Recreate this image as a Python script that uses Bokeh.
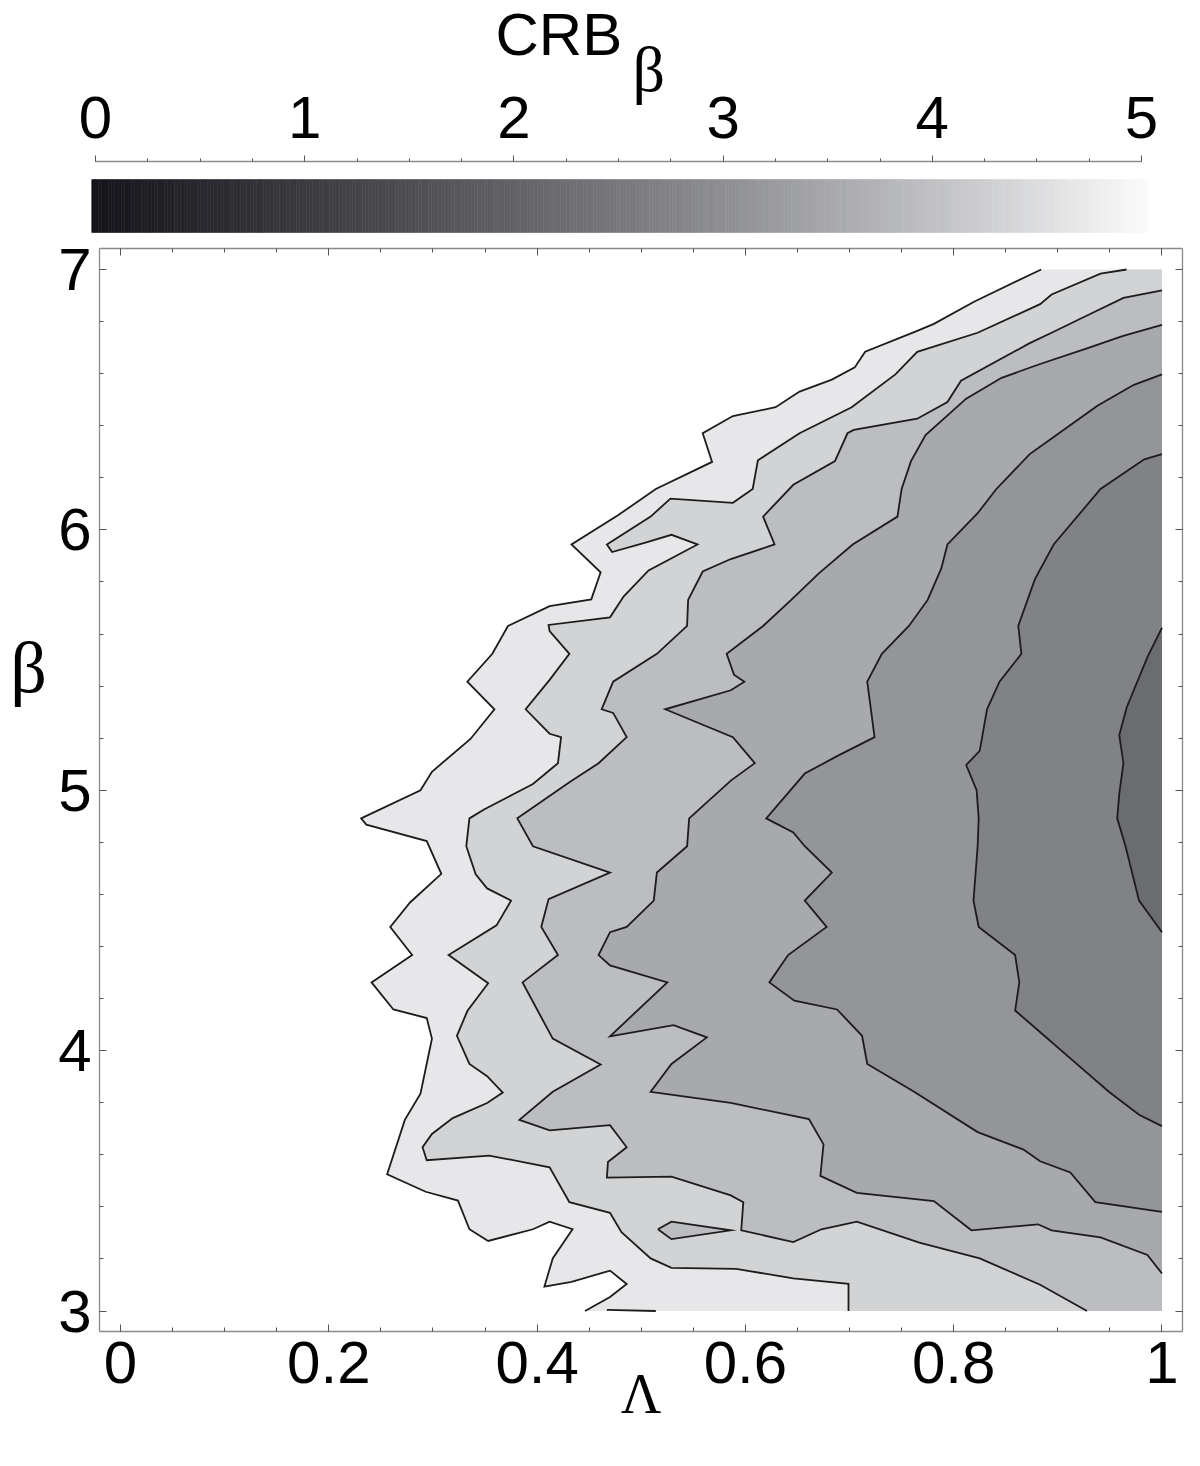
import numpy as np
from bokeh.plotting import figure
from bokeh.layouts import column, row
from bokeh.models import ColumnDataSource, Range1d, FixedTicker, LinearAxis
from bokeh.core.properties import value
from bokeh.embed import file_html
from bokeh.resources import INLINE

# ---------------- data (Lambda, beta) ----------------
C1 = [(0.884, 7.000), (0.820, 6.877), (0.781, 6.791), (0.765, 6.764), (0.715, 6.684),
      (0.705, 6.624), (0.683, 6.577), (0.652, 6.531), (0.629, 6.471), (0.588, 6.437),
      (0.559, 6.371), (0.568, 6.261), (0.514, 6.157), (0.478, 6.057), (0.433, 5.944),
      (0.461, 5.837), (0.452, 5.733), (0.412, 5.707), (0.372, 5.631), (0.357, 5.524),
      (0.333, 5.417), (0.359, 5.311), (0.336, 5.197), (0.299, 5.071), (0.288, 5.000),
      (0.231, 4.892), (0.236, 4.868), (0.294, 4.805), (0.308, 4.679), (0.278, 4.569),
      (0.259, 4.475), (0.280, 4.367), (0.241, 4.262), (0.262, 4.158), (0.294, 4.125),
      (0.299, 4.046), (0.288, 3.835), (0.273, 3.734), (0.256, 3.525), (0.293, 3.458),
      (0.324, 3.424), (0.335, 3.314), (0.353, 3.269), (0.396, 3.314), (0.412, 3.343),
      (0.434, 3.314), (0.415, 3.202), (0.407, 3.094), (0.433, 3.112), (0.470, 3.155),
      (0.486, 3.104), (0.470, 3.054), (0.446, 3.000)]

C2 = [(0.966, 7.000), (0.941, 6.984), (0.894, 6.904), (0.883, 6.867), (0.823, 6.757),
      (0.765, 6.684), (0.744, 6.597), (0.702, 6.471), (0.652, 6.371), (0.612, 6.267),
      (0.607, 6.157), (0.588, 6.104), (0.528, 6.120), (0.509, 6.051), (0.467, 5.944),
      (0.472, 5.915), (0.504, 5.951), (0.529, 5.981), (0.554, 5.944), (0.507, 5.844),
      (0.483, 5.744), (0.470, 5.664), (0.411, 5.635), (0.412, 5.611), (0.431, 5.524),
      (0.412, 5.424), (0.389, 5.311), (0.412, 5.217), (0.423, 5.204), (0.420, 5.104),
      (0.396, 5.024), (0.349, 4.926), (0.335, 4.892), (0.332, 4.785), (0.341, 4.677),
      (0.352, 4.623), (0.375, 4.576), (0.361, 4.481), (0.315, 4.367), (0.353, 4.259),
      (0.333, 4.152), (0.323, 4.057), (0.335, 3.949), (0.352, 3.902), (0.367, 3.839),
      (0.352, 3.799), (0.319, 3.741), (0.299, 3.680), (0.290, 3.629), (0.294, 3.579),
      (0.354, 3.597), (0.412, 3.552), (0.431, 3.418), (0.470, 3.377), (0.481, 3.303),
      (0.509, 3.202), (0.529, 3.166), (0.591, 3.162), (0.646, 3.125), (0.699, 3.104),
      (0.699, 3.000)]

C3 = [(1.000, 6.920), (0.963, 6.891), (0.932, 6.831), (0.894, 6.757), (0.873, 6.717),
      (0.807, 6.573), (0.794, 6.491), (0.765, 6.427), (0.704, 6.384), (0.698, 6.371),
      (0.686, 6.264), (0.646, 6.173), (0.617, 6.051), (0.628, 5.944), (0.586, 5.888),
      (0.559, 5.840), (0.545, 5.731), (0.544, 5.631), (0.515, 5.524), (0.473, 5.417),
      (0.462, 5.311), (0.473, 5.297), (0.486, 5.204), (0.459, 5.104), (0.431, 5.031),
      (0.381, 4.892), (0.396, 4.785), (0.470, 4.684), (0.411, 4.582), (0.404, 4.475),
      (0.420, 4.367), (0.386, 4.262), (0.415, 4.046), (0.461, 3.947), (0.415, 3.842),
      (0.383, 3.734), (0.412, 3.694), (0.470, 3.714), (0.486, 3.629), (0.468, 3.572),
      (0.467, 3.512), (0.529, 3.516), (0.586, 3.444), (0.598, 3.418), (0.596, 3.310),
      (0.646, 3.265), (0.673, 3.314), (0.707, 3.343), (0.767, 3.263), (0.825, 3.202),
      (0.883, 3.101), (0.928, 3.000)]

C4 = [(1.000, 6.787), (0.962, 6.744), (0.928, 6.697), (0.883, 6.637), (0.846, 6.584),
      (0.812, 6.504), (0.773, 6.364), (0.759, 6.264), (0.750, 6.157), (0.746, 6.051),
      (0.703, 5.944), (0.670, 5.831), (0.644, 5.731), (0.617, 5.631), (0.582, 5.524),
      (0.589, 5.444), (0.599, 5.417), (0.586, 5.384), (0.523, 5.311), (0.588, 5.204),
      (0.609, 5.104), (0.586, 5.037), (0.546, 4.892), (0.544, 4.785), (0.515, 4.684),
      (0.512, 4.576), (0.486, 4.475), (0.470, 4.455), (0.459, 4.367), (0.470, 4.327),
      (0.525, 4.262), (0.470, 4.055), (0.531, 4.098), (0.563, 4.051), (0.529, 3.949),
      (0.509, 3.842), (0.586, 3.799), (0.661, 3.737), (0.675, 3.640), (0.672, 3.519),
      (0.707, 3.454), (0.781, 3.422), (0.817, 3.310), (0.881, 3.333), (0.894, 3.310),
      (0.941, 3.283), (0.986, 3.215), (1.000, 3.144)]

C5 = [(1.000, 6.597), (0.973, 6.557), (0.938, 6.477), (0.894, 6.351), (0.873, 6.291),
      (0.841, 6.157), (0.823, 6.064), (0.794, 5.944), (0.788, 5.851), (0.775, 5.731),
      (0.757, 5.631), (0.731, 5.524), (0.717, 5.417), (0.724, 5.204), (0.688, 5.131),
      (0.657, 5.064), (0.620, 4.892), (0.646, 4.838), (0.657, 4.785), (0.683, 4.684),
      (0.657, 4.576), (0.678, 4.475), (0.641, 4.367), (0.623, 4.262), (0.647, 4.192),
      (0.688, 4.158), (0.712, 4.057), (0.717, 3.949), (0.762, 3.842), (0.823, 3.687),
      (0.867, 3.620), (0.883, 3.575), (0.912, 3.532), (0.936, 3.418), (1.000, 3.381)]

C6 = [(1.000, 6.291), (0.983, 6.271), (0.941, 6.157), (0.896, 5.944), (0.878, 5.811),
      (0.862, 5.631), (0.865, 5.524), (0.844, 5.417), (0.832, 5.311), (0.825, 5.151),
      (0.812, 5.097), (0.822, 5.000), (0.824, 4.892), (0.823, 4.785), (0.819, 4.576),
      (0.824, 4.475), (0.859, 4.367), (0.863, 4.262), (0.859, 4.154), (0.887, 4.057),
      (0.912, 3.970), (0.949, 3.842), (0.978, 3.754), (1.000, 3.710)]

C7 = [(1.000, 5.624), (0.986, 5.511), (0.966, 5.317), (0.959, 5.211), (0.963, 5.104),
      (0.959, 4.987), (0.957, 4.892), (0.965, 4.785), (0.978, 4.576), (1.000, 4.455)]

ISLAND = [(0.516, 3.314), (0.529, 3.343), (0.586, 3.310), (0.529, 3.276)]   # band-3 pocket
BOTTOM_PIECE = [(0.467, 3.004), (0.514, 3.000)]

CONTOURS = [C1, C2, C3, C4, C5, C6, C7]
BAND_COLORS = ["#e7e7e9", "#d2d3d5", "#bcbdc0", "#a8a9ac", "#949599", "#818286", "#6b6c70"]
ISLAND_BAND = 2

LAM_MAX, BETA_MIN, BETA_MAX = 1.0, 3.0, 7.0

X_TICKS = [0.0, 0.2, 0.4, 0.6, 0.8, 1.0]
X_TICK_LABELS = ["0", "0.2", "0.4", "0.6", "0.8", "1"]
Y_TICKS = [3, 4, 5, 6, 7]
Y_TICK_LABELS = ["3", "4", "5", "6", "7"]
CB_TICKS = [0, 1, 2, 3, 4, 5]
CB_TICK_LABELS = ["0", "1", "2", "3", "4", "5"]
CB_STOP_VALUES = [0, 1, 2, 3, 4, 5]
CB_STOP_COLORS = ["#16141a", "#3b3a3f", "#626266", "#8d8e92", "#bfc0c3", "#f9f9f9"]
CB_TITLE = "CRB"
CB_TITLE_SUB = "β"
X_LABEL = "Λ"
Y_LABEL = "β"

SANS = "Liberation Sans"
SERIF = "Liberation Serif"
AXIS_GRAY = "#8a8a8a"
TICK_GRAY = "#555555"

# ---------------- layout constants (page pixels) ----------------
PAGE_W = 1190
CB_PX0, CB_PPU = 103.0, 209.2          # colour-bar value 0 position and px per unit
TOP_L, TOP_R = 60, 8                   # borders of the colour-bar figures
cb_left_px = 8 + TOP_L
cb_right_px = 8 + PAGE_W - TOP_R
cb_xr = Range1d((cb_left_px - CB_PX0) / CB_PPU, (cb_right_px - CB_PX0) / CB_PPU)


def band_region(pts):
    """Contour line closed on its darker side along the domain boundary."""
    xs = [q[0] for q in pts]
    ys = [q[1] for q in pts]
    sx, sy = xs[0], ys[0]
    ex, ey = xs[-1], ys[-1]
    if ey <= BETA_MIN + 1e-9 and ex < LAM_MAX:
        xs.append(LAM_MAX); ys.append(BETA_MIN)
    if sy >= BETA_MAX - 1e-9 and sx < LAM_MAX:
        xs.append(LAM_MAX); ys.append(BETA_MAX)
    return xs, ys


def bare(fig):
    fig.xgrid.visible = False
    fig.ygrid.visible = False
    fig.outline_line_color = None
    fig.background_fill_color = "white"
    fig.border_fill_color = "white"
    return fig


# ---------------- title + colour-bar labels (page y 8..163) ----------------
TITLE_H = 155
tfig = bare(figure(width=PAGE_W, height=TITLE_H, x_range=cb_xr, y_range=Range1d(0, 1),
                   output_backend="svg", toolbar_location=None, title_location=None,
                   x_axis_location=None, y_axis_location=None,
                   min_border_left=TOP_L, min_border_right=TOP_R,
                   min_border_top=0, min_border_bottom=0))


def ty(page_y):
    return (8 + TITLE_H - page_y) / TITLE_H


tfig.text(x=[(503 - CB_PX0) / CB_PPU], y=[ty(42)], text=[CB_TITLE],
          text_font=value(SANS), text_font_size="60px", text_align="left",
          text_baseline="middle", text_color="black")
tfig.text(x=[(640 - CB_PX0) / CB_PPU], y=[ty(77)], text=[CB_TITLE_SUB],
          text_font=value(SERIF), text_font_size="64px", text_align="left",
          text_baseline="middle", text_color="black")
tfig.text(x=CB_TICKS, y=[ty(125)] * len(CB_TICKS), text=CB_TICK_LABELS,
          text_font=value(SANS), text_font_size="60px", text_align="center",
          text_baseline="middle", text_color="black")

# ---------------- colour bar (page y 163..241) ----------------
CB_H = 78
cb = bare(figure(width=PAGE_W, height=CB_H, x_range=cb_xr, y_range=Range1d(0, 1),
                 output_backend="svg", toolbar_location=None, title_location=None,
                 x_axis_location=None, y_axis_location=None,
                 min_border_left=TOP_L, min_border_right=TOP_R,
                 min_border_top=6, min_border_bottom=0))
cb_frame_top, cb_frame_bot = 169, 8 + TITLE_H + CB_H
edges = np.linspace(-0.018, 5.029, 321)
mids = 0.5 * (edges[:-1] + edges[1:])
stops_rgb = np.array([[int(h[i:i + 2], 16) for i in (1, 3, 5)] for h in CB_STOP_COLORS], float)
cols = []
for m in mids:
    v = min(max(m, CB_STOP_VALUES[0]), CB_STOP_VALUES[-1])
    rgb = [int(round(np.interp(v, CB_STOP_VALUES, stops_rgb[:, k]))) for k in range(3)]
    cols.append("#%02x%02x%02x" % tuple(rgb))
fh = cb_frame_bot - cb_frame_top
cb.quad(left=edges[:-1], right=edges[1:],
        bottom=(cb_frame_bot - 240) / fh, top=(cb_frame_bot - 187) / fh,
        fill_color=cols, line_color=cols, line_width=0.6)

cax = LinearAxis(ticker=FixedTicker(ticks=CB_TICKS,
                                    minor_ticks=[0.25 * i for i in range(21)]))
cax.bounds = (0, 5)
cax.axis_line_color = AXIS_GRAY
cax.axis_line_width = 1.3
cax.major_tick_line_color = TICK_GRAY
cax.minor_tick_line_color = TICK_GRAY
cax.major_tick_in = 0
cax.major_tick_out = 6
cax.minor_tick_in = 0
cax.minor_tick_out = 3
cax.major_label_overrides = {t: "" for t in CB_TICKS}
cax.major_label_text_font_size = "0px"
cax.major_label_standoff = 0
cb.add_layout(cax, "above")

# ---------------- main contour figure (page y 241..1458) ----------------
MAIN_H = 1217
BETA_W = 50
p = bare(figure(width=PAGE_W - BETA_W, height=MAIN_H,
                x_range=Range1d(-0.0202, 1.0197), y_range=Range1d(2.9213, 7.0806),
                output_backend="svg", toolbar_location=None, title_location=None,
                x_axis_location=None, y_axis_location=None,
                min_border_left=49, min_border_right=8, min_border_top=15,
                min_border_bottom=119))

pxs, pys, pcols = [], [], []
for c, col in zip(CONTOURS, BAND_COLORS):
    xs, ys = band_region(c)
    pxs.append(xs); pys.append(ys); pcols.append(col)
pxs.append([q[0] for q in ISLAND]); pys.append([q[1] for q in ISLAND])
pcols.append(BAND_COLORS[ISLAND_BAND])
p.patches(xs="xs", ys="ys", fill_color="c", line_color=None,
          source=ColumnDataSource(dict(xs=pxs, ys=pys, c=pcols)))

lxs = [[q[0] for q in c] for c in CONTOURS]
lys = [[q[1] for q in c] for c in CONTOURS]
lxs.append([q[0] for q in ISLAND] + [ISLAND[0][0]])
lys.append([q[1] for q in ISLAND] + [ISLAND[0][1]])
lxs.append([q[0] for q in BOTTOM_PIECE]); lys.append([q[1] for q in BOTTOM_PIECE])
p.multi_line(xs="xs", ys="ys", line_color="#1c1c1c", line_width=1.8, line_join="miter",
             source=ColumnDataSource(dict(xs=lxs, ys=lys)))


def frame_axis(ticks, minors, labels, show):
    ax = LinearAxis(ticker=FixedTicker(ticks=ticks, minor_ticks=minors))
    ax.axis_line_color = AXIS_GRAY
    ax.axis_line_width = 1.3
    ax.major_tick_line_color = TICK_GRAY
    ax.minor_tick_line_color = TICK_GRAY
    ax.major_tick_in = 7
    ax.major_tick_out = 0
    ax.minor_tick_in = 4
    ax.minor_tick_out = 0
    if show:
        ax.major_label_overrides = {t: s for t, s in zip(ticks, labels)}
        ax.major_label_text_font = SANS
        ax.major_label_text_font_size = "60px"
        ax.major_label_text_color = "black"
    else:
        ax.major_label_text_font_size = "0px"
        ax.major_label_standoff = 0
        ax.major_label_overrides = {t: "" for t in ticks}
    return ax


x_minor = [round(0.05 * i, 2) for i in range(21)]
y_minor = [round(3 + 0.2 * i, 1) for i in range(21)]

xb = frame_axis(X_TICKS, x_minor, X_TICK_LABELS, True)
xb.major_label_standoff = 10
xb.axis_label = X_LABEL
xb.axis_label_text_font = SERIF
xb.axis_label_text_font_size = "56px"
xb.axis_label_text_font_style = "normal"
xb.axis_label_text_color = "black"
xb.axis_label_standoff = -23
yl = frame_axis(Y_TICKS, y_minor, Y_TICK_LABELS, True)
yl.major_label_standoff = 8
xt = frame_axis(X_TICKS, x_minor, X_TICK_LABELS, False)
yr = frame_axis(Y_TICKS, y_minor, Y_TICK_LABELS, False)
p.add_layout(xb, "below")
p.add_layout(yl, "left")
p.add_layout(xt, "above")
p.add_layout(yr, "right")

# ---------------- y-axis title column (page x 8..58) ----------------
bfig = bare(figure(width=BETA_W, height=MAIN_H, x_range=Range1d(0, 1), y_range=Range1d(0, 1),
                   output_backend="svg", toolbar_location=None, title_location=None,
                   x_axis_location=None, y_axis_location=None,
                   min_border_left=0, min_border_right=0, min_border_top=0,
                   min_border_bottom=0))
main_top_px = 8 + TITLE_H + CB_H
bfig.text(x=[(36 - 8) / BETA_W], y=[(main_top_px + MAIN_H - 712) / MAIN_H], text=[Y_LABEL],
          text_font=value(SERIF), text_font_size="72px", text_align="center",
          text_baseline="middle", text_color="black")

layout = column(tfig, cb, row(bfig, p, spacing=0), spacing=0)
open("out.html", "w").write(file_html(layout, INLINE))
